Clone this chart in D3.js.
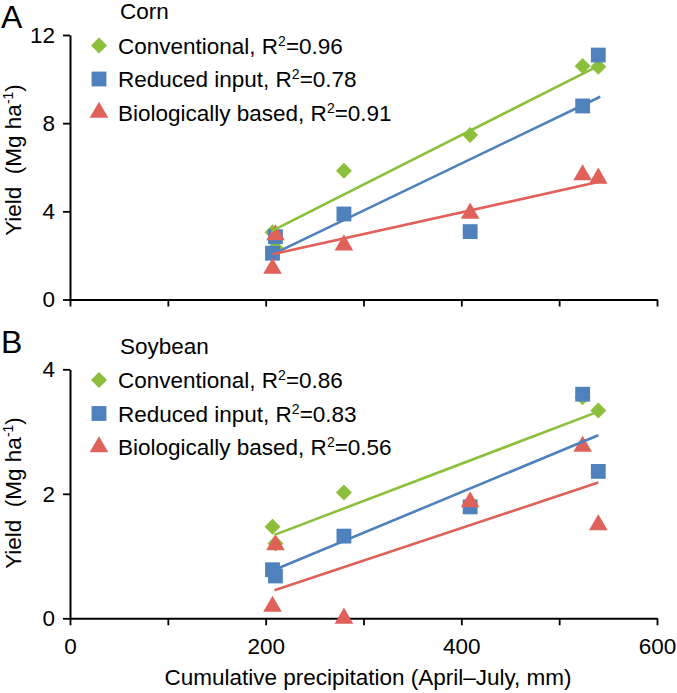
<!DOCTYPE html>
<html>
<head>
<meta charset="utf-8">
<script src="https://cdn.jsdelivr.net/npm/d3@7"></script>
<style>
  html, body { margin: 0; padding: 0; background: #fff; }
  svg { display: block; font-family: "Liberation Sans", Arial, sans-serif; }
</style>
</head>
<body>
<svg id="chart" width="677" height="693"></svg>
<script>
// ---------------- data ----------------
const precipitation = [207, 210, 280, 409, 524, 540];   // mm, April–July

const cornConventional = [3.05, 2.35, 5.84, 7.46, 10.59, 10.56];
const cornReduced      = [2.10, 2.85, 3.88, 3.08, 8.78, 11.09];
const cornBiological   = [1.41, 2.93, 2.47, 3.91, 5.65, 5.50];

const soyConventional  = [1.47, 1.20, 2.02, 1.82, 3.55, 3.34];
const soyReduced       = [0.78, 0.68, 1.32, 1.79, 3.60, 2.36];
const soyBiological    = [0.19, 1.18, 0.00, 1.87, 2.76, 1.50];

// fitted trend lines: [xStart, yStart, xEnd, yEnd]
const cornFits = { conv: [206, 3.10, 540, 10.60], red: [207, 2.05, 542, 9.20], bio: [207, 2.05, 542, 5.35] };
const soyFits  = { conv: [209, 1.34, 540, 3.32],  red: [209, 0.78, 540, 2.94], bio: [209, 0.45, 540, 2.18] };

const cornR2 = ["0.96", "0.78", "0.91"];
const soyR2  = ["0.86", "0.83", "0.56"];
const seriesNames = ["Conventional", "Reduced input", "Biologically based"];

const xTicks = [0, 100, 200, 300, 400, 500, 600];
const cornYTicks = [0, 4, 8, 12];
const soyYTicks = [0, 2, 4];

// ---------------- style ----------------
const colors = ["#8cbf3c", "#4f81bd", "#e0605a"];
const FS = 22.5;
const SUP = 14;

const svg = d3.select("#chart");
const x = d3.scaleLinear().domain([0, 600]).range([70, 657]);

function marker(kind) {
  if (kind === 0) return d3.symbol().type(d3.symbolSquare).size(128)();
  if (kind === 1) return d3.symbol().type(d3.symbolSquare).size(220)();
  return d3.symbol().type(d3.symbolTriangle).size(150)();
}

function panel(opts) {
  const { y, yTicks, series, fits, r2, letter, letterY, title, titleY, legendY, showXLabels, yTitleCenter } = opts;
  const g = svg.append("g");

  // axes
  const xAxis = d3.axisBottom(x).tickValues(xTicks).tickSize(7).tickSizeOuter(0).tickPadding(13)
    .tickFormat(d => showXLabels && d % 200 === 0 ? d3.format("d")(d) : "");
  const xg = g.append("g").attr("transform", `translate(0,${y(0)})`).call(xAxis);
  const yAxis = d3.axisLeft(y).tickValues(yTicks).tickSize(7).tickSizeOuter(0).tickPadding(8)
    .tickFormat(d3.format("d"));
  const yg = g.append("g").attr("transform", `translate(${x(0)},0)`).call(yAxis);
  [xg, yg].forEach(a => {
    a.select(".domain").attr("stroke", "#000").attr("stroke-width", 2);
    a.selectAll(".tick line").attr("stroke", "#000").attr("stroke-width", 1.8);
    a.selectAll(".tick text").attr("fill", "#000").style("font-size", FS + "px").style("font-family", "'Liberation Sans', Arial, sans-serif");
  });

  // markers
  const fitKeys = ["conv", "red", "bio"];
  series.forEach((vals, si) => {
    g.append("g").selectAll("path").data(vals).join("path")
      .attr("d", marker(si))
      .attr("fill", colors[si])
      .attr("transform", (d, i) => `translate(${x(precipitation[i])},${y(d)})` + (si === 0 ? " rotate(45)" : ""));
  });
  // trend lines
  fitKeys.forEach((k, si) => {
    const f = fits[k];
    g.append("line")
      .attr("x1", x(f[0])).attr("y1", y(f[1])).attr("x2", x(f[2])).attr("y2", y(f[3]))
      .attr("stroke", colors[si]).attr("stroke-width", 2.6);
  });

  // panel letter
  g.append("text").attr("x", 1).attr("y", letterY).text(letter).style("font-size", "32px");
  // crop title
  g.append("text").attr("x", 120).attr("y", titleY).text(title).style("font-size", FS + "px");

  // legend
  seriesNames.forEach((name, si) => {
    const cy = legendY + si * 33.5;
    g.append("path").attr("d", marker(si)).attr("fill", colors[si])
      .attr("transform", `translate(99,${cy})` + (si === 0 ? " rotate(45)" : ""));
    const t = g.append("text").attr("x", 118).attr("y", cy + 8).style("font-size", FS + "px");
    t.append("tspan").text(name + ", R");
    t.append("tspan").attr("dy", -8).style("font-size", SUP + "px").text("2");
    t.append("tspan").attr("dy", 8).text("=" + r2[si]);
  });

  // y title
  const yt = g.append("text").attr("transform", `translate(21,${yTitleCenter}) rotate(-90)`)
    .attr("text-anchor", "middle").style("font-size", FS + "px");
  yt.append("tspan").text("Yield\u00a0\u00a0(Mg\u00a0ha");
  yt.append("tspan").attr("dy", -8).style("font-size", SUP + "px").text("-1");
  yt.append("tspan").attr("dy", 8).text(")");
}

panel({
  y: d3.scaleLinear().domain([0, 12]).range([299.5, 35]),
  yTicks: cornYTicks,
  series: [cornConventional, cornReduced, cornBiological],
  fits: cornFits, r2: cornR2,
  letter: "A", letterY: 28, title: "Corn", titleY: 19, legendY: 45.5,
  showXLabels: false, yTitleCenter: 160
});

panel({
  y: d3.scaleLinear().domain([0, 4]).range([618.3, 369.3]),
  yTicks: soyYTicks,
  series: [soyConventional, soyReduced, soyBiological],
  fits: soyFits, r2: soyR2,
  letter: "B", letterY: 353, title: "Soybean", titleY: 354, legendY: 380,
  showXLabels: true, yTitleCenter: 493
});

svg.append("text").attr("x", 368).attr("y", 685).attr("text-anchor", "middle")
  .style("font-size", FS + "px").text("Cumulative precipitation (April\u2013July, mm)");
</script>
</body>
</html>
